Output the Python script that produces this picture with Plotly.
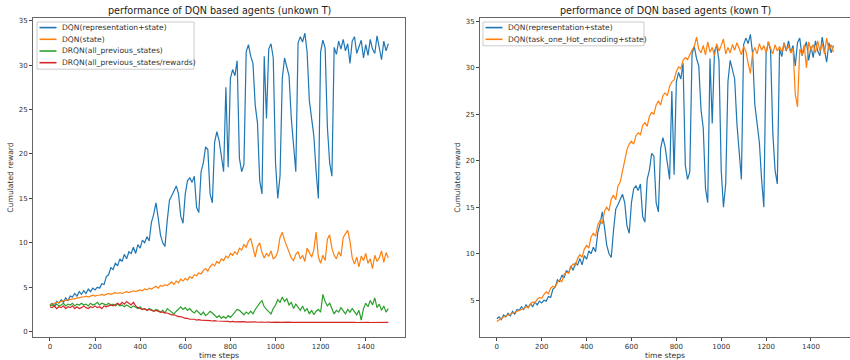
import plotly.graph_objects as go

time_steps = list(range(0, 1501, 10))

dqn_repr_state = [
    3.0, 3.2, 2.9, 3.4, 3.2, 3.6, 3.3, 3.8, 3.5, 4.0,
    3.9, 4.3, 4.0, 4.5, 4.2, 4.6, 4.3, 4.8, 4.5, 4.9,
    4.7, 5.0, 4.9, 5.4, 5.3, 6.2, 6.4, 7.2, 7.0, 7.7,
    7.4, 8.2, 7.9, 8.7, 8.2, 9.0, 8.8, 9.5, 8.8, 9.8,
    9.4, 10.3, 10.0, 10.7, 10.2, 12.3, 13.2, 14.5, 12.8, 10.9,
    10.0, 9.6, 12.5, 14.8, 15.3, 15.8, 16.4, 15.5, 13.0, 12.2,
    15.5, 17.0, 17.3, 16.8, 17.5, 14.0, 13.4, 18.0, 19.0, 20.8,
    20.5, 15.5, 14.5, 21.3, 22.5, 21.5, 19.5, 18.0, 27.5, 18.5,
    28.5, 29.5, 28.8, 30.5, 19.5, 18.0, 18.8, 31.5, 32.3, 31.0,
    30.2, 25.5, 23.5, 17.0, 15.5, 31.0, 24.0, 31.8, 32.4, 30.8,
    19.0, 15.0, 17.5, 28.5, 30.8, 29.6, 28.8, 24.0, 20.5, 18.0,
    32.5, 33.2, 32.6, 33.6, 31.5, 26.0, 24.0, 22.0, 18.0, 15.0,
    31.5, 32.8, 31.9, 23.0, 19.0, 17.5, 32.0, 31.2, 32.7, 31.8,
    32.9, 31.6, 32.4, 30.2, 32.7, 33.2, 31.3, 32.2, 32.8, 30.8,
    32.3, 31.1, 32.9, 31.8, 31.3, 33.3, 31.9, 30.6, 32.7, 31.6,
    32.4,
]

dqn_state = [
    3.0, 3.1, 3.2, 3.3, 3.3, 3.4, 3.5, 3.5, 3.6, 3.6,
    3.7, 3.7, 3.8, 3.8, 3.9, 3.9, 4.0, 3.9, 4.0, 4.1,
    4.0, 4.1, 4.1, 4.2, 4.1, 4.2, 4.3, 4.2, 4.3, 4.4,
    4.3, 4.4, 4.3, 4.4, 4.5, 4.4, 4.5, 4.6, 4.5, 4.6,
    4.7, 4.6, 4.8, 4.7, 4.9, 4.8, 5.0, 5.1, 4.9, 5.2,
    5.1, 5.3, 5.2, 5.4, 5.6, 5.3, 5.7, 5.5, 5.9, 5.7,
    6.0, 5.8, 6.2, 6.0, 6.4, 6.3, 6.6, 6.5, 6.9, 7.1,
    6.8, 7.3, 7.6, 7.4, 7.9, 7.7, 8.2, 8.0, 8.5, 8.3,
    8.8, 8.6, 9.0, 8.7, 9.4, 9.2, 9.8, 9.5, 10.2, 10.5,
    9.3, 8.4, 9.6, 10.0, 8.9, 8.3, 8.8, 8.5, 9.1, 8.2,
    8.4, 9.0, 10.6, 11.2, 10.3, 9.6, 8.9, 8.3, 8.0, 8.7,
    9.0, 8.2, 8.6, 7.9, 9.4, 8.8, 8.4, 9.2, 11.2, 8.4,
    7.7, 8.6, 8.0, 10.4, 10.9, 9.4, 8.6, 8.2, 9.0, 8.5,
    10.6, 11.0, 11.4, 10.2, 8.3, 7.6, 8.4, 7.3, 8.5, 8.0,
    8.8, 7.7, 8.2, 7.1, 8.6, 7.9, 8.3, 9.1, 7.8, 8.9,
    8.3,
]

drqn_states = [
    2.9, 3.0, 2.8, 3.1, 2.9, 3.0, 3.2, 2.9, 3.1, 3.0,
    3.2, 2.9, 3.1, 3.0, 3.2, 3.0, 3.1, 2.9, 3.2, 3.0,
    3.1, 3.3, 3.0, 3.2, 3.1, 3.0, 3.2, 3.0, 3.1, 2.9,
    3.1, 2.9, 3.0, 2.8, 3.0, 2.8, 2.7, 2.9, 2.7, 2.6,
    2.8, 2.5, 2.6, 2.4, 2.6, 2.5, 2.3, 2.5, 2.4, 2.2,
    2.4, 2.1, 2.6, 2.4, 2.2, 2.0, 2.3, 2.6, 2.8, 2.5,
    2.7, 2.4, 2.6, 2.3, 2.1, 2.4, 2.2, 1.9, 2.2, 1.8,
    2.0, 2.3, 2.1, 1.9, 1.6, 1.8, 1.5, 1.7, 1.5, 1.8,
    1.6, 1.9, 2.2, 2.5, 2.4, 2.1, 1.9, 2.2, 2.0, 2.3,
    2.0, 2.5, 2.9, 3.2, 3.5, 2.8, 2.5, 2.2, 2.0, 2.6,
    3.0, 3.6, 3.3, 3.9, 3.4, 3.7, 3.0, 3.3, 2.6, 3.1,
    2.7, 2.4, 2.9, 2.3, 2.6, 2.0, 2.4, 1.9, 2.3, 2.5,
    2.2, 4.2, 3.4, 2.9, 3.2, 2.6, 2.0, 2.4, 2.2, 2.7,
    2.3, 2.0, 2.5, 2.2, 2.6, 2.3, 1.9, 2.4, 1.3, 2.6,
    3.2, 2.8, 3.5, 3.0, 3.8, 2.7, 3.1, 2.4, 2.9, 2.2,
    2.6,
]

drqn_states_rewards = [
    2.8, 2.7, 2.9, 2.6, 2.8, 2.7, 2.9, 2.6, 2.8, 2.7,
    2.9, 2.6, 2.8, 2.6, 2.7, 2.9, 2.7, 2.6, 2.8, 2.7,
    2.9, 2.7, 2.8, 2.6, 2.9, 2.8, 2.9, 3.0, 2.9, 3.1,
    3.2, 3.0, 3.3, 3.1, 3.4, 3.2, 3.0, 3.3, 2.9, 2.7,
    2.6, 2.5, 2.6, 2.4, 2.5, 2.4, 2.3, 2.4, 2.3, 2.2,
    2.2, 2.1, 2.1, 2.0, 1.9, 1.9, 1.8, 1.7, 1.7, 1.6,
    1.5, 1.5, 1.4, 1.4, 1.4, 1.3, 1.35, 1.3, 1.3, 1.25,
    1.3, 1.25, 1.2, 1.25, 1.2, 1.2, 1.15, 1.2, 1.15, 1.15,
    1.1, 1.15, 1.1, 1.12, 1.1, 1.1, 1.12, 1.08, 1.1, 1.1,
    1.08, 1.1, 1.06, 1.1, 1.08, 1.06, 1.1, 1.07, 1.05, 1.08,
    1.06, 1.08, 1.05, 1.07, 1.05, 1.06, 1.08, 1.05, 1.06, 1.04,
    1.06, 1.05, 1.07, 1.04, 1.06, 1.05, 1.04, 1.06, 1.05, 1.04,
    1.05, 1.06, 1.04, 1.05, 1.03, 1.05, 1.06, 1.04, 1.05, 1.03,
    1.05, 1.04, 1.06, 1.03, 1.05, 1.04, 1.03, 1.05, 1.04, 1.03,
    1.04, 1.05, 1.03, 1.04, 1.05, 1.03, 1.04, 1.03, 1.05, 1.04,
    1.04,
]

dqn_task_onehot = [
    2.7, 2.9, 3.0, 3.2, 3.3, 3.4, 3.5, 3.6, 3.7, 3.8,
    3.9, 4.0, 4.1, 4.3, 4.2, 4.6, 4.8, 4.7, 5.1, 5.3,
    5.2, 5.6, 5.9, 5.7, 6.3, 6.5, 6.4, 6.9, 7.2, 7.0,
    7.8, 8.0, 7.9, 8.6, 8.9, 8.7, 9.5, 9.9, 9.6, 10.5,
    10.9, 10.6, 11.8, 12.2, 11.9, 13.1, 13.6, 13.2, 14.6, 15.0,
    14.6, 15.9, 16.3, 15.8, 17.3, 17.7, 18.8, 20.0, 21.2, 21.8,
    22.1, 21.8, 22.7, 23.0, 22.8, 23.8, 24.1, 23.7, 24.8, 25.2,
    25.0, 26.0, 26.4, 26.0, 27.0, 27.3, 27.0, 28.0, 28.5, 28.7,
    29.6, 30.1, 29.9, 30.8, 31.1, 30.9, 31.5, 31.9, 32.3, 33.3,
    32.0, 31.6, 32.4, 31.4, 32.8, 31.7, 32.2, 31.3, 32.6, 31.8,
    32.4, 33.1, 31.5, 32.2, 31.6, 32.5, 31.9, 32.7, 32.1, 31.4,
    32.3, 31.8, 30.5, 29.4, 31.6, 32.2, 31.5, 32.6, 31.9, 32.4,
    31.6, 32.8, 32.1, 31.5, 32.5, 31.8, 32.3, 31.7, 32.6, 31.9,
    32.4, 31.6, 32.1, 27.2, 25.8, 32.0, 31.4, 32.5, 30.0, 32.8,
    31.9, 32.5, 31.6, 32.9, 31.8, 32.6, 31.5, 33.2, 31.9, 32.5,
    31.7,
]

left_names = ["DQN(representation+state)", "DQN(state)",
              "DRQN(all_previous_states)", "DRQN(all_previous_states/rewards)"]
right_names = ["DQN(representation+state)", "DQN(task_one_Hot_encoding+state)"]
titles = ["performance of DQN based agents (unkown T)",
          "performance of DQN based agents (kown T)"]
x_label = "time steps"
y_label = "Cumulated reward"
x_ticks = [0, 200, 400, 600, 800, 1000, 1200, 1400]
y_ticks_left = [0, 5, 10, 15, 20, 25, 30, 35]
y_ticks_right = [5, 10, 15, 20, 25, 30, 35]

BLUE, ORANGE, GREEN, RED = "#1f77b4", "#ff7f0e", "#2ca02c", "#d62728"
FONT = "DejaVu Sans"
LW = 1.2
W, H = 850, 360


def px(x):
    return x / W


def py(y):
    return 1 - y / H


fig = go.Figure()
left_series = [dqn_repr_state, dqn_state, drqn_states, drqn_states_rewards]
left_colors = [BLUE, ORANGE, GREEN, RED]
for name, ys, c in zip(left_names, left_series, left_colors):
    fig.add_trace(go.Scatter(x=time_steps, y=ys, name=name, mode="lines",
                             line=dict(color=c, width=LW), xaxis="x", yaxis="y",
                             showlegend=False))
right_series = [dqn_repr_state, dqn_task_onehot]
right_colors = [BLUE, ORANGE]
for name, ys, c in zip(right_names, right_series, right_colors):
    fig.add_trace(go.Scatter(x=time_steps, y=ys, name=name, mode="lines",
                             line=dict(color=c, width=LW), xaxis="x2", yaxis="y2",
                             showlegend=False))

axis_common = dict(showgrid=False, zeroline=False, showline=True, mirror=True,
                   linecolor="#666", linewidth=1, ticks="outside", ticklen=3,
                   tickcolor="#444", tickfont=dict(family=FONT, size=7, color="#333"))

lx0, lx1 = px(33), px(405)
rx0, rx1 = px(480), 1.0
y0, y1 = py(337), py(18)

shapes = []
annotations = []


# manual legends (matplotlib style)
def add_legend(names, colors, bx0, bx1, top):
    row0, gap = top + 5.6, 11.7
    bottom = row0 + gap * (len(names) - 1) + 6.5
    shapes.append(dict(type="rect", xref="paper", yref="paper",
                       x0=px(bx0), x1=px(bx1), y0=py(bottom), y1=py(top),
                       line=dict(color="#cccccc", width=1), fillcolor="rgba(255,255,255,0.8)",
                       layer="above"))
    for i, (n, c) in enumerate(zip(names, colors)):
        yy = row0 + gap * i
        shapes.append(dict(type="line", xref="paper", yref="paper",
                           x0=px(bx0 + 2.5), x1=px(bx0 + 19.5), y0=py(yy), y1=py(yy),
                           line=dict(color=c, width=1.6), layer="above"))
        annotations.append(dict(text=n, x=px(bx0 + 22.5), y=py(yy), xref="paper", yref="paper",
                                showarrow=False, xanchor="left", yanchor="middle",
                                font=dict(family=FONT, size=7.6, color="#333")))


add_legend(left_names, left_colors, 37, 194, 22)
add_legend(right_names, right_colors, 483, 644, 22)

for t, (a, b) in zip(titles, [(lx0, lx1), (rx0, rx1)]):
    annotations.append(dict(text=t, x=(a + b) / 2, y=py(10.5), xref="paper", yref="paper",
                            showarrow=False, xanchor="center", yanchor="middle",
                            font=dict(family=FONT, size=9.6, color="#222")))
    annotations.append(dict(text=x_label, x=(a + b) / 2, y=py(355.5), xref="paper", yref="paper",
                            showarrow=False, xanchor="center", yanchor="middle",
                            font=dict(family=FONT, size=7.6, color="#333")))

fig.update_layout(
    width=W, height=H,
    margin=dict(l=0, r=0, t=0, b=0),
    plot_bgcolor="white", paper_bgcolor="white",
    font=dict(family=FONT, size=7, color="#333"),
    xaxis=dict(domain=[lx0, lx1], range=[-75, 1574], tickvals=x_ticks, anchor="y", **axis_common),
    yaxis=dict(domain=[y0, y1], range=[-0.6, 35.3], tickvals=y_ticks_left, anchor="x",
               title=dict(text=y_label, font=dict(size=7.6), standoff=4), **axis_common),
    xaxis2=dict(domain=[rx0, rx1], range=[-75, 1574], tickvals=x_ticks, anchor="y2", **axis_common),
    yaxis2=dict(domain=[y0, y1], range=[1.04, 35.36], tickvals=y_ticks_right, anchor="x2",
                title=dict(text=y_label, font=dict(size=7.6), standoff=4), **axis_common),
    showlegend=False,
    hovermode=False,
    shapes=shapes,
    annotations=annotations,
)

fig.write_html("out.html",
               config={"displayModeBar": False},
               post_script="document.body.style.margin='0';document.body.style.padding='0';")
